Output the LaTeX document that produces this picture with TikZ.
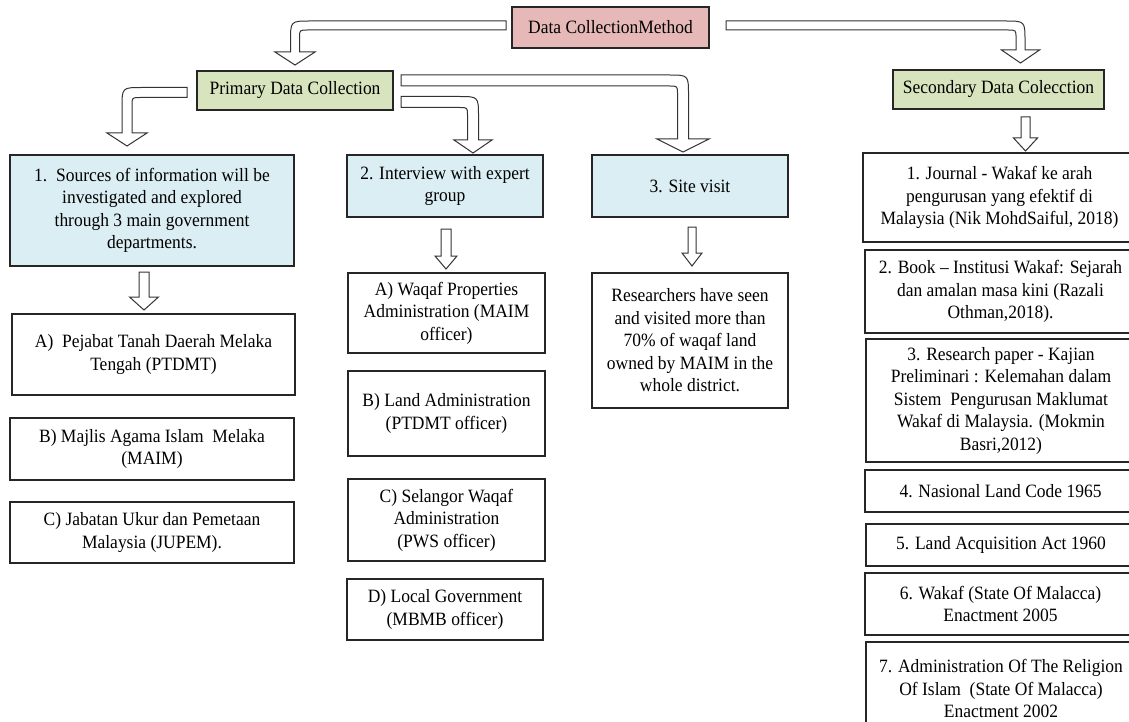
\documentclass[tikz,border=0pt]{standalone}
\usepackage{fontspec}
\setmainfont{Liberation Serif}[FakeStretch=0.93]
\usetikzlibrary{calc}
\definecolor{pinkc}{HTML}{E6B9B8}
\definecolor{greenc}{HTML}{D7E4BD}
\definecolor{bluec}{HTML}{DBEEF4}
\tikzset{
  box/.style={draw=black!85, line width=1.2pt, inner sep=0pt, outer sep=0pt, align=center,
    font=\fontsize{18.8}{22.5}\selectfont},
  pinkbox/.style={box, fill=pinkc},
  greenbox/.style={box, fill=greenc},
  bluebox/.style={box, fill=bluec},
  whitebox/.style={box, fill=white},
  blockarrow/.style={fill=white, draw=black!80, line width=1pt, line join=miter},
}
% #1 style, #2 name, #3 x1, #4 y1, #5 x2, #6 y2, #7 text
\newcommand\bx[7]{\node[#1, minimum width={(#5)-(#3)}, minimum height={(#6)-(#4)}] (#2) at ({((#3)+(#5))/2},{((#4)+(#6))/2}) {#7};}
% bent block arrow: #1 tail, #2 tip, #3 direction (+1 right, -1 left), #4 shaft half width, #5 head half width
\newcommand\bentarrow[5]{%
  \path[blockarrow] let \p1=(#1), \p2=(#2) in
    (\x1,{\y1+#4}) -- ({\x2+(#3)*(#4-20)},{\y1+#4})
    .. controls ({\x2+(#3)*#4},{\y1+#4}) .. ({\x2+(#3)*#4},{\y1+#4-20})
    -- ({\x2+(#3)*#4},{\y2+13}) -- ({\x2+(#3)*#5},{\y2+13}) -- (\x2,\y2)
    -- ({\x2-(#3)*#5},{\y2+13}) -- ({\x2-(#3)*#4},{\y2+13})
    -- ({\x2-(#3)*#4},{\y1-#4-8})
    .. controls ({\x2-(#3)*#4},{\y1-#4}) .. ({\x2-(#3)*(#4+8)},{\y1-#4})
    -- (\x1,{\y1-#4}) -- cycle;}
% straight down block arrow: #1 top, #2 tip reference (y), #3 shaft half width, #4 head half width
\newcommand\downarrowblk[4]{%
  \path[blockarrow] let \p1=(#1), \p2=(#2) in
    ({\x1-#3},\y1) -- ({\x1-#3},{\y2+13}) -- ({\x1-#4},{\y2+13}) -- (\x1,\y2)
    -- ({\x1+#4},{\y2+13}) -- ({\x1+#3},{\y2+13}) -- ({\x1+#3},\y1) -- cycle;}
\begin{document}
\begin{tikzpicture}[x=1pt,y=-1pt]
\useasboundingbox (0,0) rectangle (1129,722);
\clip (0,0) rectangle (1129,722);

% top level
\bx{pinkbox}{dcm}{512}{7}{709}{48}{Data CollectionMethod}
\bx{greenbox}{prim}{197}{71}{393}{110}{Primary Data Collection}
\bx{greenbox}{sec}{893}{70}{1104}{109}{Secondary Data Colecction}

% primary branches
\bx{bluebox}{b1}{10}{155}{294}{266}{1.\ \ Sources of information will be\\investigated and explored\\through 3 main government\\departments.}
\bx{bluebox}{b2}{347}{155}{543}{217}{2. Interview with expert\\group}
\bx{bluebox}{b3}{592}{155}{788}{217}{3. Site visit}

\bx{whitebox}{la}{12}{314}{295}{395}{A)\ \ Pejabat Tanah Daerah Melaka\\Tengah (PTDMT)}
\bx{whitebox}{lb}{10}{418}{294}{480}{B) Majlis Agama Islam\ \ Melaka\\(MAIM)}
\bx{whitebox}{lc}{10}{502}{294}{563}{C) Jabatan Ukur dan Pemetaan\\Malaysia (JUPEM).}

\bx{whitebox}{ma}{348}{273}{545}{353}{A) Waqaf Properties\\Administration (MAIM\\officer)}
\bx{whitebox}{mb}{348}{371}{545}{456}{B) Land Administration\\(PTDMT officer)}
\bx{whitebox}{mc}{348}{479}{545}{561}{C) Selangor Waqaf\\Administration\\(PWS officer)}
\bx{whitebox}{md}{347}{579}{543}{640}{D) Local Government\\(MBMB officer)}

\bx{whitebox}{site}{592}{273}{788}{408}{Researchers have seen\\and visited more than\\70\% of waqaf land\\owned by MAIM in the\\whole district.}

% secondary column
\bx{whitebox}{r1}{863}{153}{1136}{242}{1. Journal - Wakaf ke arah\\pengurusan yang efektif di\\Malaysia (Nik MohdSaiful, 2018)}
\bx{whitebox}{r2}{865}{250}{1136}{333}{2. Book -- Institusi Wakaf: Sejarah\\dan amalan masa kini (Razali\\Othman,2018).}
\bx{whitebox}{r3}{866}{339}{1136}{462}{3. Research paper - Kajian\\Preliminari : Kelemahan dalam\\Sistem\ \ Pengurusan Maklumat\\Wakaf di Malaysia. (Mokmin\\Basri,2012)}
\bx{whitebox}{r4}{865}{470}{1136}{512}{4. Nasional Land Code 1965}
\bx{whitebox}{r5}{866}{524}{1136}{566}{5. Land Acquisition Act 1960}
\bx{whitebox}{r6}{865}{573}{1136}{635}{6. Wakaf (State Of Malacca)\\Enactment 2005}
\bx{whitebox}{r7}{866}{642}{1136}{735}{7. Administration Of The Religion\\Of Islam\ \ (State Of Malacca)\\Enactment 2002}

% arrow end points
\coordinate (tDL) at ($(dcm.west)+(-6,-2)$);
\coordinate (hDL) at ($(prim.north)+(0,-6)$);
\coordinate (tDR) at ($(dcm.east)+(17,-2)$);
\coordinate (hDR) at ($(sec.north)+(22,-7)$);
\coordinate (tPL) at ($(prim.west)+(-10,2)$);
\coordinate (hPL) at ($(b1.north)+(-25,-9)$);
\coordinate (tPU) at ($(prim.east)+(8,-10)$);
\coordinate (hPU) at ($(b3.north)+(-7,-3)$);
\coordinate (tPD) at ($(prim.east)+(8,11.5)$);
\coordinate (hPD) at ($(b2.north)+(28,-2)$);

\bentarrow{tDL}{hDL}{-1}{4.5}{20}
\bentarrow{tDR}{hDR}{1}{4.5}{19}
\bentarrow{tPL}{hPL}{-1}{5}{20}
\bentarrow{tPU}{hPU}{1}{5.5}{26}
\bentarrow{tPD}{hPD}{1}{5.5}{19}

\coordinate (s1) at ($(b1.south)+(-8,6)$);
\coordinate (e1) at ($(la.north)+(0,-4)$);
\coordinate (s2) at ($(b2.south)+(1,12)$);
\coordinate (e2) at ($(ma.north)+(0,-4)$);
\coordinate (s3) at ($(b3.south)+(2,10)$);
\coordinate (e3) at ($(site.north)+(0,-7)$);
\coordinate (s4) at ($(sec.south)+(27,8)$);
\coordinate (e4) at ($(r1.north)+(0,-2)$);
\downarrowblk{s1}{e1}{5}{14.5}
\downarrowblk{s2}{e2}{5}{11}
\downarrowblk{s3}{e3}{4}{10}
\downarrowblk{s4}{e4}{4.5}{12}
\end{tikzpicture}
\end{document}
